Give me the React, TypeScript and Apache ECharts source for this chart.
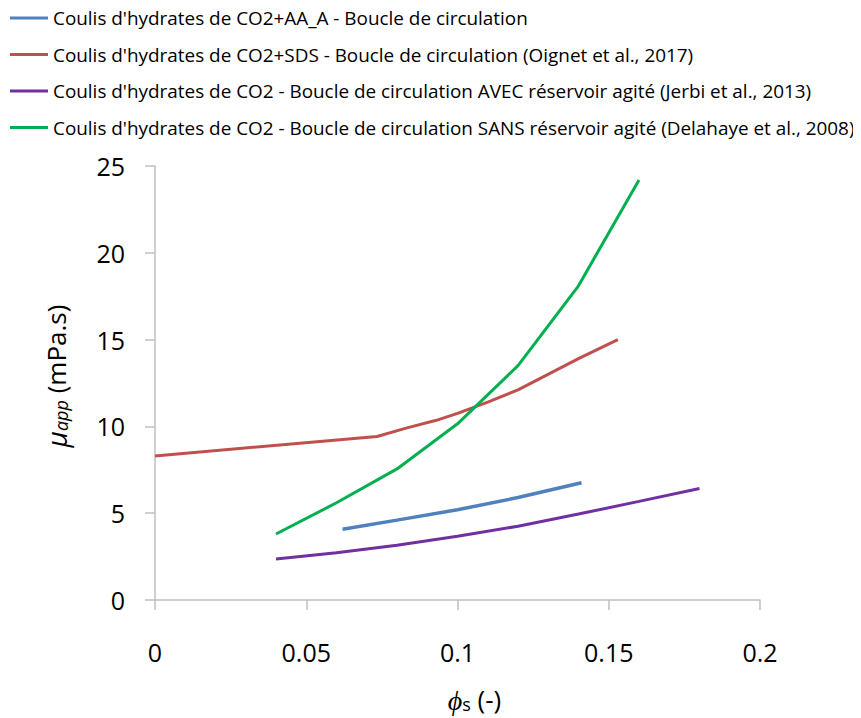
import React, { useEffect, useRef } from "react";
import * as echarts from "echarts";

const seriesNames = [
  "Coulis d'hydrates de CO2+AA_A - Boucle de circulation",
  "Coulis d'hydrates de CO2+SDS - Boucle de circulation (Oignet et al., 2017)",
  "Coulis d'hydrates de CO2 - Boucle de circulation AVEC réservoir agité (Jerbi et al., 2013)",
  "Coulis d'hydrates de CO2 - Boucle de circulation SANS réservoir agité (Delahaye et al., 2008)",
];

const blueData: [number, number][] = [
  [0.062, 4.08], [0.08, 4.6], [0.1, 5.2], [0.12, 5.9], [0.141, 6.75],
];
const redData: [number, number][] = [
  [0, 8.3], [0.0734, 9.42], [0.083, 9.9], [0.093, 10.35], [0.1, 10.75],
  [0.11, 11.4], [0.12, 12.1], [0.14, 13.9], [0.153, 15.0],
];
const purpleData: [number, number][] = [
  [0.04, 2.36], [0.06, 2.72], [0.08, 3.15], [0.1, 3.67], [0.12, 4.25],
  [0.14, 4.95], [0.16, 5.68], [0.18, 6.42],
];
const greenData: [number, number][] = [
  [0.04, 3.8], [0.06, 5.6], [0.08, 7.55], [0.1, 10.15], [0.12, 13.5],
  [0.14, 18.1], [0.16, 24.2],
];

const colors = ["#4F81BD", "#C0504D", "#7030A0", "#00B050"];
const FONT = "Open Sans";

export default function App() {
  const ref = useRef<HTMLDivElement>(null);
  useEffect(() => {
    if (!ref.current) return;
    const chart = echarts.init(ref.current, null, { renderer: "svg" });
    const datas = [blueData, redData, purpleData, greenData];
    chart.setOption({
      animation: false,
      backgroundColor: "#ffffff",
      legend: {
        orient: "vertical",
        left: 10,
        top: 8,
        padding: 0,
        itemWidth: 38,
        itemHeight: 3,
        itemGap: 16.5,
        icon: "rect",
        textStyle: { fontFamily: FONT, fontSize: 18.9, color: "#000", lineHeight: 20 },
        data: seriesNames,
      },
      grid: { left: 155, top: 166, width: 605, height: 447, containLabel: false },
      xAxis: {
        type: "value",
        min: 0,
        max: 0.2,
        interval: 0.05,
        splitLine: { show: false },
        axisLine: { show: true, lineStyle: { color: "#BFBFBF", width: 1.5 } },
        axisTick: { show: true, inside: false, length: 10, lineStyle: { color: "#BFBFBF", width: 1.5 } },
        axisLabel: { fontFamily: FONT, fontSize: 25, color: "#000", margin: 39 },
        name: "{phi|ϕ}{sub|s} (-)",
        nameLocation: "middle",
        nameGap: 85,
        nameTextStyle: {
          fontFamily: FONT,
          fontSize: 26,
          color: "#000",
          padding: [0, 0, 0, 34],
          rich: {
            phi: { fontFamily: FONT, fontSize: 28, fontStyle: "italic", color: "#000" },
            sub: { fontFamily: FONT, fontSize: 18, padding: [10, 0, 0, 0], color: "#000" },
          },
        },
      },
      yAxis: {
        type: "value",
        min: 0,
        max: 25,
        interval: 5,
        splitLine: { show: false },
        axisLine: { show: true, lineStyle: { color: "#BFBFBF", width: 1.5 } },
        axisTick: { show: true, inside: false, length: 10, lineStyle: { color: "#BFBFBF", width: 1.5 } },
        axisLabel: { fontFamily: FONT, fontSize: 25, color: "#000", margin: 30 },
        name: "{mu|μ}{sub|app} (mPa.s)",
        nameLocation: "middle",
        nameGap: 85,
        nameRotate: 90,
        nameTextStyle: {
          fontFamily: FONT,
          fontSize: 26,
          color: "#000",
          padding: [0, 0, 0, 14],
          rich: {
            mu: { fontFamily: FONT, fontSize: 28, fontStyle: "italic", color: "#000" },
            sub: { fontFamily: FONT, fontSize: 18, fontStyle: "italic", padding: [10, 0, 0, 0], color: "#000" },
          },
        },
      },
      series: seriesNames.map((name, i) => ({
        name,
        type: "line",
        data: datas[i],
        showSymbol: false,
        symbol: "none",
        smooth: false,
        lineStyle: { color: colors[i], width: i === 0 ? 3.5 : 3 },
        itemStyle: { color: colors[i] },
        z: i === 0 ? 5 : 3,
      })),
    });
    return () => chart.dispose();
  }, []);
  return <div ref={ref} style={{ width: 861, height: 718, margin: "-8px 0 0 -8px" }} />;
}
